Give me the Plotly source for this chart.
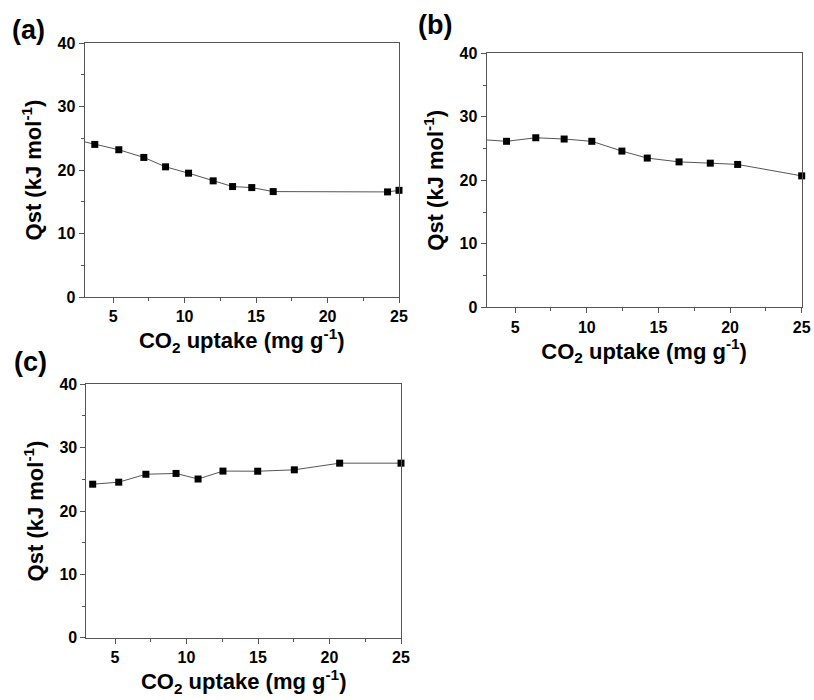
import plotly.graph_objects as go

# Panel (a)
a_x = [2.0, 3.72, 5.4, 7.15, 8.67, 10.28, 12.0, 13.36, 14.7, 16.2, 24.2, 25.0]
a_y = [24.95, 24.03, 23.19, 21.98, 20.5, 19.5, 18.29, 17.39, 17.23, 16.6, 16.55, 16.8]
# Panel (b)
b_x = [2.4, 4.40, 6.44, 8.42, 10.35, 12.45, 14.22, 16.44, 18.62, 20.53, 25.0]
b_y = [26.45, 26.14, 26.7, 26.5, 26.14, 24.6, 23.5, 22.9, 22.7, 22.5, 20.7]
# Panel (c)
c_x = [3.44, 5.26, 7.16, 9.27, 10.81, 12.55, 14.98, 17.54, 20.71, 25.0]
c_y = [24.23, 24.55, 25.8, 25.93, 25.05, 26.3, 26.28, 26.5, 27.55, 27.55]

panel_labels = ["(a)", "(b)", "(c)"]
x_title = "CO<sub>2</sub> uptake (mg g<sup>-1</sup>)"
y_title = "Qst (kJ mol<sup>-1</sup>)"
x_range = [3, 25]
y_range = [0, 40]

FONT = "Liberation Sans, Arial, sans-serif"
W, H = 814, 700

# pixel boxes of the panels: (left, right, top, bottom)
boxes = [(84.5, 399.0, 43.0, 297.0),
         (486.5, 801.7, 53.3, 307.3),
         (86.4, 401.0, 384.3, 637.7)]
label_pos = [(28.5, 30), (435, 25), (30, 362)]

fig = go.Figure()
series = [(a_x, a_y), (b_x, b_y), (c_x, c_y)]
for i, (xs, ys) in enumerate(series):
    suf = "" if i == 0 else str(i + 1)
    fig.add_trace(go.Scatter(x=xs, y=ys, mode="lines",
                             line=dict(color="#555555", width=1),
                             xaxis="x" + suf, yaxis="y" + suf,
                             showlegend=False, hoverinfo="skip"))
    mx = [x for x in xs if x >= x_range[0]]
    my = [y for x, y in zip(xs, ys) if x >= x_range[0]]
    fig.add_trace(go.Scatter(x=mx, y=my, mode="markers",
                             marker=dict(symbol="square", size=7, color="black"),
                             cliponaxis=False,
                             xaxis="x" + suf, yaxis="y" + suf,
                             showlegend=False))

layout = dict(width=W, height=H, margin=dict(l=0, r=0, t=0, b=0, autoexpand=False),
              paper_bgcolor="white", plot_bgcolor="white",
              font=dict(family=FONT, color="black"))

axis_common = dict(showgrid=False, zeroline=False, showline=True, mirror=True,
                   automargin=False,
                   linecolor="#555555", linewidth=1, ticks="outside",
                   ticklen=5, tickwidth=1, tickcolor="#555555",
                   tickfont=dict(family=FONT, size=16, color="black", weight="bold"))

annotations = []
for i, (l, r, t, b) in enumerate(boxes):
    suf = "" if i == 0 else str(i + 1)
    xd = [l / W, r / W]
    yd = [1 - b / H, 1 - t / H]
    layout["xaxis" + suf] = dict(axis_common, domain=xd, range=x_range,
                                 anchor="y" + suf, dtick=5, tick0=0,
                                 minor=dict(dtick=2.5, ticks="outside", ticklen=3,
                                            tickcolor="#555555"),
                                 title=dict(text=x_title, standoff=7,
                                            font=dict(family=FONT, size=22, weight="bold")))
    layout["yaxis" + suf] = dict(axis_common, domain=yd, range=y_range,
                                 anchor="x" + suf, dtick=10, tick0=0,
                                 minor=dict(dtick=5, ticks="outside", ticklen=3,
                                            tickcolor="#555555"),
                                 title=dict(text=y_title, standoff=9,
                                            font=dict(family=FONT, size=22, weight="bold")))
    lx, ly = label_pos[i]
    annotations.append(dict(text=panel_labels[i], xref="paper", yref="paper",
                            x=lx / W, y=1 - ly / H, xanchor="center", yanchor="middle",
                            showarrow=False,
                            font=dict(family=FONT, size=27, color="black", weight="bold")))

layout["annotations"] = annotations
fig.update_layout(**layout)
fig.write_html("out.html", config={"displayModeBar": False},
               post_script="document.body.style.margin='0';document.body.style.padding='0';")
